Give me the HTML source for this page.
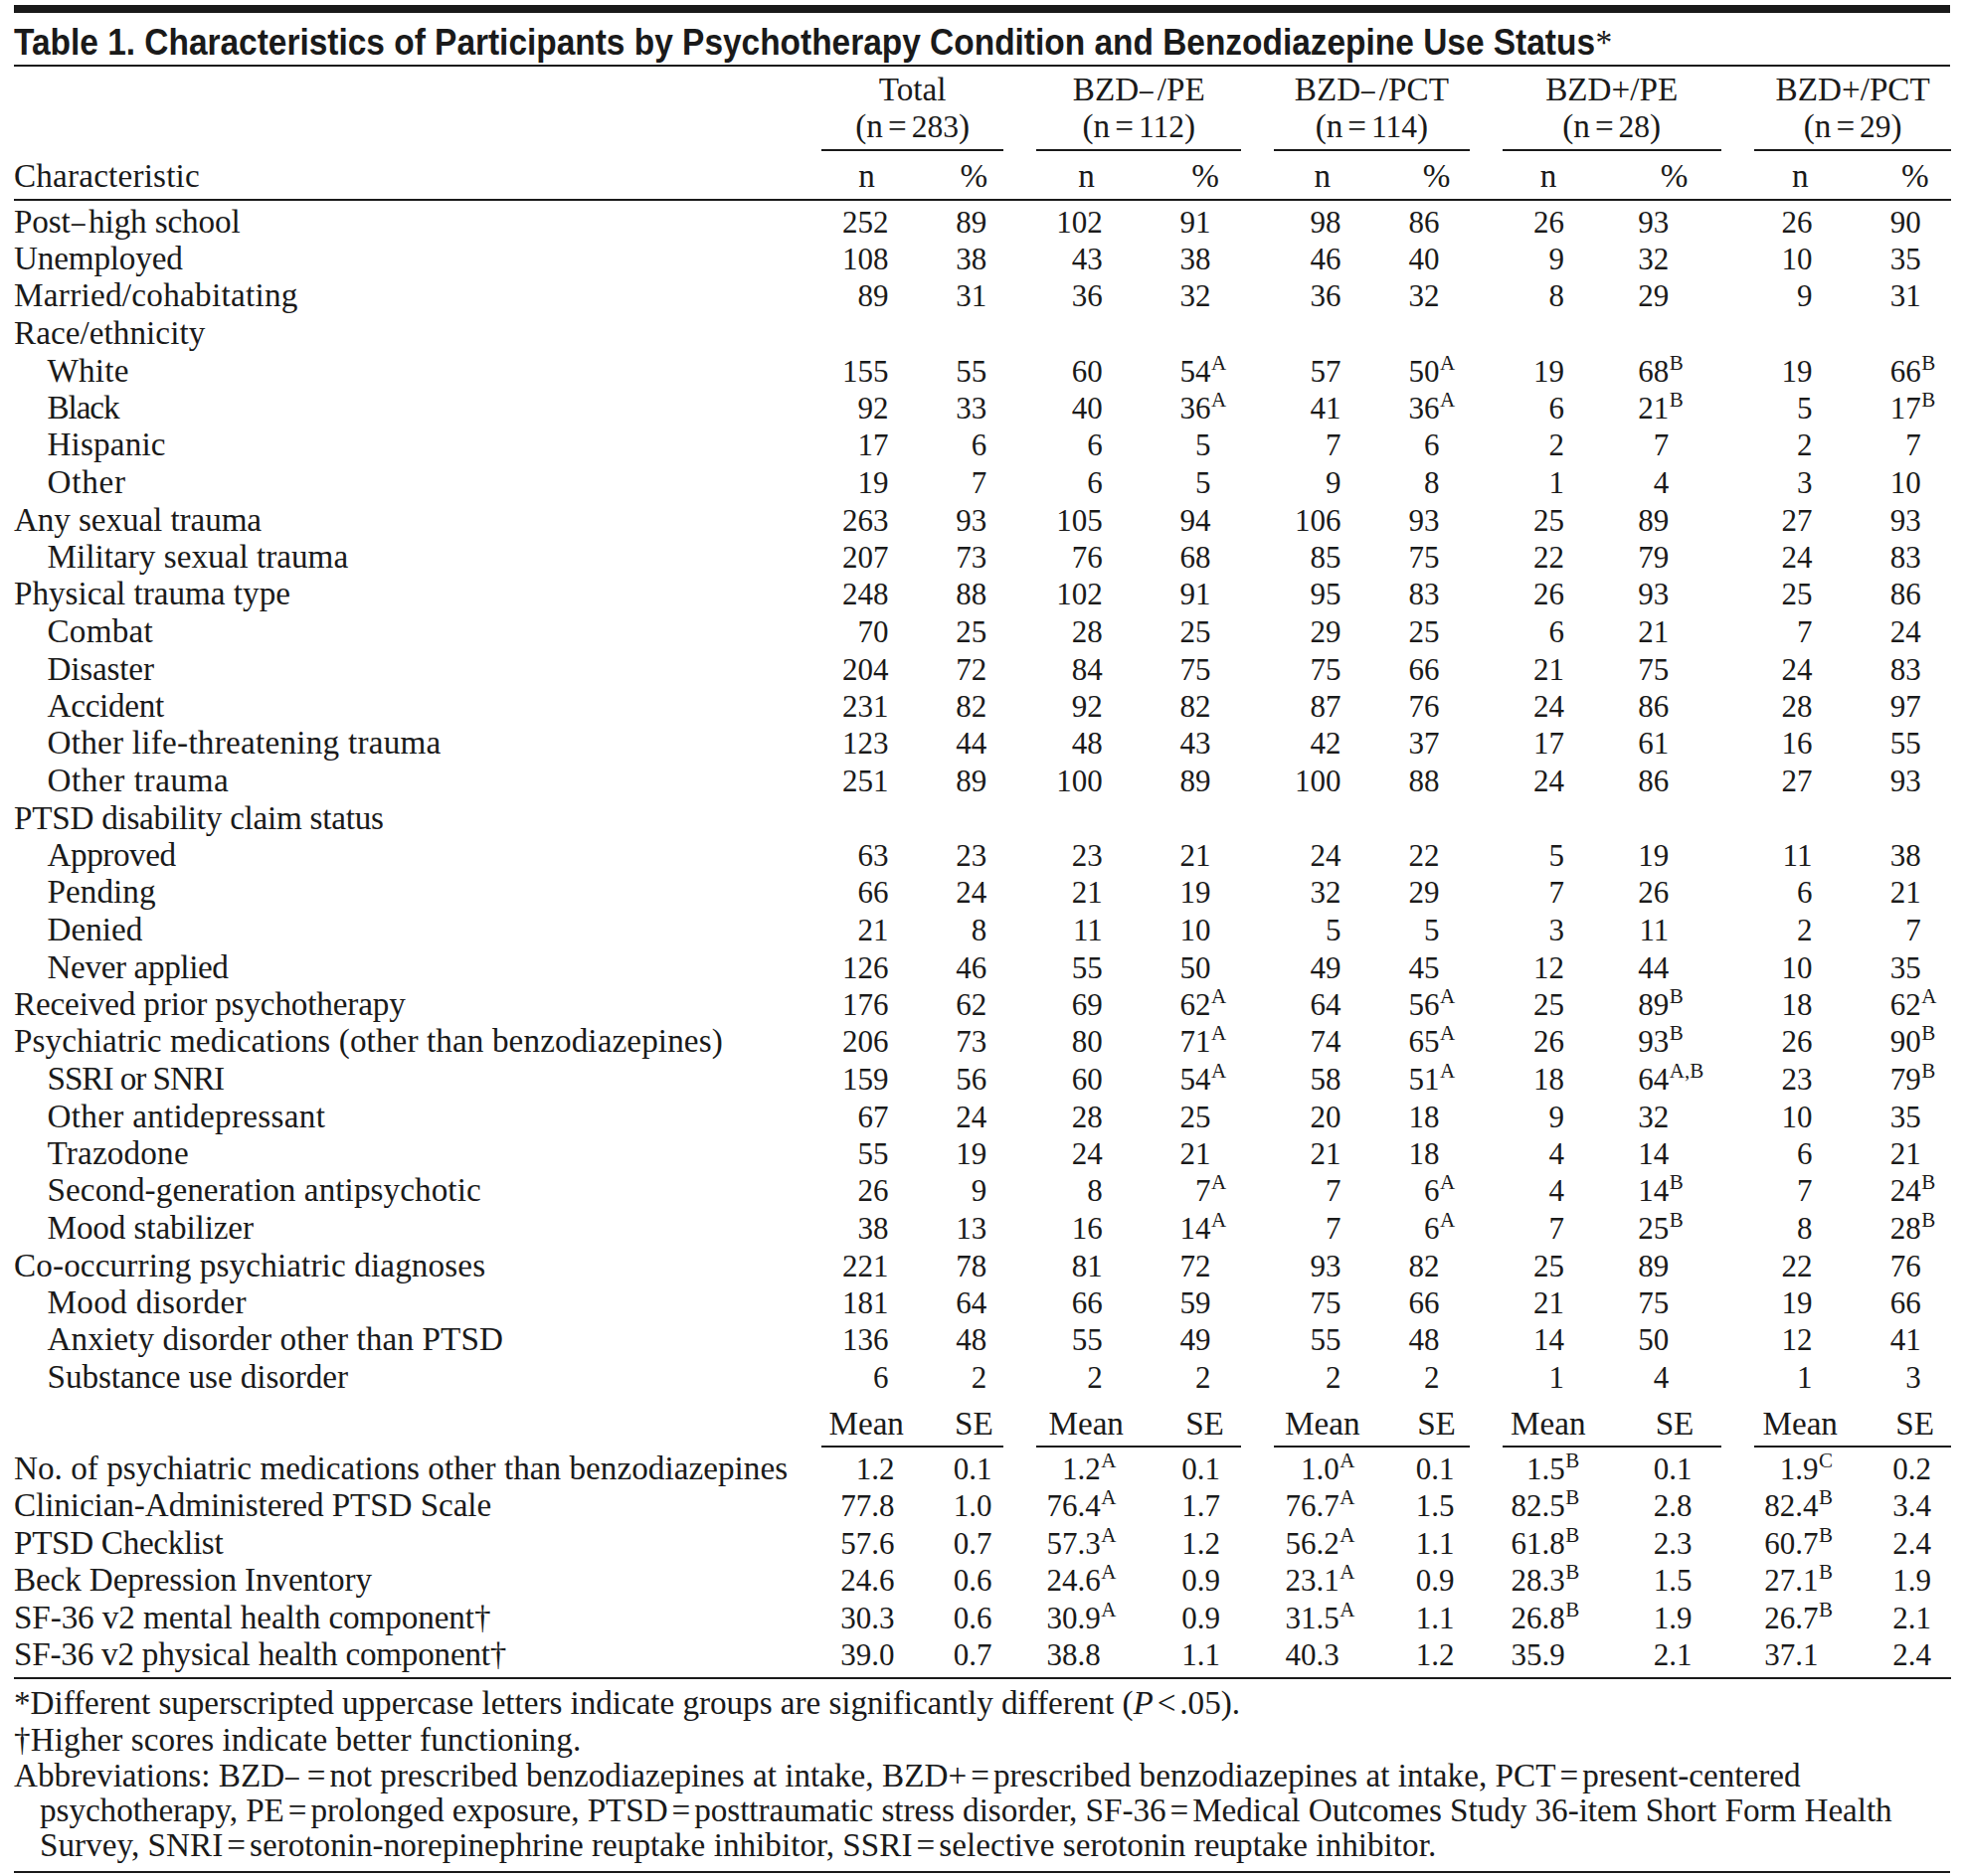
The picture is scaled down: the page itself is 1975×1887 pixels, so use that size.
<!DOCTYPE html>
<html><head><meta charset="utf-8"><title>Table 1</title><style>
html,body{margin:0;padding:0;background:#fff;}
body{width:1975px;height:1887px;position:relative;overflow:hidden;}
.t{position:absolute;white-space:nowrap;font-family:"Liberation Serif",serif;font-size:33.2px;line-height:0;color:#1a1a1a;}
.r{position:absolute;}
.eq{margin:0 4px;}
.gn .eq{margin:0 5px;}
.lt{margin:0 4px;}
.gd{font-size:31.5px;}
.da1{position:relative;top:1px;}
.da{display:inline-block;transform:scaleX(0.82);transform-origin:0 0;margin:0 1px 0 1px;}
.title{position:absolute;white-space:nowrap;font-family:"Liberation Sans",sans-serif;font-weight:bold;line-height:0;color:#1a1a1a;transform-origin:0 0;transform:scaleX(0.925);}
.title .ast{font-family:"Liberation Serif",serif;font-weight:normal;letter-spacing:0;margin-left:0.5px;}
</style></head>
<body>
<div class="r" style="left:14px;top:5px;width:1947px;height:8px;background:#1a1a1a"></div>
<div class="r" style="left:14px;top:65px;width:1947px;height:2px;background:#1a1a1a"></div>
<div class="t" style="top:90px;left:617.6px;width:600px;text-align:center;">Total</div>
<div class="t gn" style="top:127px;left:617.6px;width:600px;text-align:center;">(n<span class="eq">=</span><span class="gd">283</span>)</div>
<div class="r" style="left:826px;top:150px;width:183px;height:2px;background:#1a1a1a"></div>
<div class="t" style="top:177px;left:571.5px;width:600px;text-align:center;">n</div>
<div class="t" style="top:177px;left:679.3px;width:600px;text-align:center;">%</div>
<div class="t" style="top:90px;left:845.3px;width:600px;text-align:center;">BZD<span class="da">&ndash;</span>/PE</div>
<div class="t gn" style="top:127px;left:845.3px;width:600px;text-align:center;">(n<span class="eq">=</span><span class="gd">112</span>)</div>
<div class="r" style="left:1042px;top:150px;width:206px;height:2px;background:#1a1a1a"></div>
<div class="t" style="top:177px;left:792.6px;width:600px;text-align:center;">n</div>
<div class="t" style="top:177px;left:912.0px;width:600px;text-align:center;">%</div>
<div class="t" style="top:90px;left:1079.4px;width:600px;text-align:center;">BZD<span class="da">&ndash;</span>/PCT</div>
<div class="t gn" style="top:127px;left:1079.4px;width:600px;text-align:center;">(n<span class="eq">=</span><span class="gd">114</span>)</div>
<div class="r" style="left:1281px;top:150px;width:197px;height:2px;background:#1a1a1a"></div>
<div class="t" style="top:177px;left:1029.7px;width:600px;text-align:center;">n</div>
<div class="t" style="top:177px;left:1144.6px;width:600px;text-align:center;">%</div>
<div class="t" style="top:90px;left:1320.7px;width:600px;text-align:center;">BZD+/PE</div>
<div class="t gn" style="top:127px;left:1320.7px;width:600px;text-align:center;">(n<span class="eq">=</span><span class="gd">28</span>)</div>
<div class="r" style="left:1511px;top:150px;width:220px;height:2px;background:#1a1a1a"></div>
<div class="t" style="top:177px;left:1257.0px;width:600px;text-align:center;">n</div>
<div class="t" style="top:177px;left:1383.6px;width:600px;text-align:center;">%</div>
<div class="t" style="top:90px;left:1563.2px;width:600px;text-align:center;">BZD+/PCT</div>
<div class="t gn" style="top:127px;left:1563.2px;width:600px;text-align:center;">(n<span class="eq">=</span><span class="gd">29</span>)</div>
<div class="r" style="left:1764px;top:150px;width:198px;height:2px;background:#1a1a1a"></div>
<div class="t" style="top:177px;left:1510.4px;width:600px;text-align:center;">n</div>
<div class="t" style="top:177px;left:1625.9px;width:600px;text-align:center;">%</div>
<div class="t" style="top:177px;left:14.0px;letter-spacing:0.185px;">Characteristic</div>
<div class="r" style="left:14px;top:200px;width:1948px;height:2px;background:#1a1a1a"></div>
<div class="t" style="top:223px;left:14.0px;letter-spacing:-0.140px;">Post<span class="da">&ndash;</span>high school</div>
<div class="t n" style="top:224px;right:1081.50px;text-align:right;font-size:31px;">252</div>
<div class="t n" style="top:224px;right:982.80px;text-align:right;font-size:31px;">89</div>
<div class="t n" style="top:224px;right:866.20px;text-align:right;font-size:31px;">102</div>
<div class="t n" style="top:224px;right:757.50px;text-align:right;font-size:31px;">91</div>
<div class="t n" style="top:224px;right:626.50px;text-align:right;font-size:31px;">98</div>
<div class="t n" style="top:224px;right:527.50px;text-align:right;font-size:31px;">86</div>
<div class="t n" style="top:224px;right:402.10px;text-align:right;font-size:31px;">26</div>
<div class="t n" style="top:224px;right:296.70px;text-align:right;font-size:31px;">93</div>
<div class="t n" style="top:224px;right:152.60px;text-align:right;font-size:31px;">26</div>
<div class="t n" style="top:224px;right:43.20px;text-align:right;font-size:31px;">90</div>
<div class="t" style="top:260px;left:14.0px;letter-spacing:-0.178px;">Unemployed</div>
<div class="t n" style="top:261px;right:1081.50px;text-align:right;font-size:31px;">108</div>
<div class="t n" style="top:261px;right:982.80px;text-align:right;font-size:31px;">38</div>
<div class="t n" style="top:261px;right:866.20px;text-align:right;font-size:31px;">43</div>
<div class="t n" style="top:261px;right:757.50px;text-align:right;font-size:31px;">38</div>
<div class="t n" style="top:261px;right:626.50px;text-align:right;font-size:31px;">46</div>
<div class="t n" style="top:261px;right:527.50px;text-align:right;font-size:31px;">40</div>
<div class="t n" style="top:261px;right:402.10px;text-align:right;font-size:31px;">9</div>
<div class="t n" style="top:261px;right:296.70px;text-align:right;font-size:31px;">32</div>
<div class="t n" style="top:261px;right:152.60px;text-align:right;font-size:31px;">10</div>
<div class="t n" style="top:261px;right:43.20px;text-align:right;font-size:31px;">35</div>
<div class="t" style="top:297px;left:14.0px;letter-spacing:0.279px;">Married/cohabitating</div>
<div class="t n" style="top:298px;right:1081.50px;text-align:right;font-size:31px;">89</div>
<div class="t n" style="top:298px;right:982.80px;text-align:right;font-size:31px;">31</div>
<div class="t n" style="top:298px;right:866.20px;text-align:right;font-size:31px;">36</div>
<div class="t n" style="top:298px;right:757.50px;text-align:right;font-size:31px;">32</div>
<div class="t n" style="top:298px;right:626.50px;text-align:right;font-size:31px;">36</div>
<div class="t n" style="top:298px;right:527.50px;text-align:right;font-size:31px;">32</div>
<div class="t n" style="top:298px;right:402.10px;text-align:right;font-size:31px;">8</div>
<div class="t n" style="top:298px;right:296.70px;text-align:right;font-size:31px;">29</div>
<div class="t n" style="top:298px;right:152.60px;text-align:right;font-size:31px;">9</div>
<div class="t n" style="top:298px;right:43.20px;text-align:right;font-size:31px;">31</div>
<div class="t" style="top:335px;left:14.0px;letter-spacing:0.046px;">Race/ethnicity</div>
<div class="t" style="top:373px;left:47.5px;letter-spacing:0.200px;">White</div>
<div class="t n" style="top:374px;right:1081.50px;text-align:right;font-size:31px;">155</div>
<div class="t n" style="top:374px;right:982.80px;text-align:right;font-size:31px;">55</div>
<div class="t n" style="top:374px;right:866.20px;text-align:right;font-size:31px;">60</div>
<div class="t n" style="top:374px;right:757.50px;text-align:right;font-size:31px;">54</div>
<div class="t s" style="top:365px;left:1218.0px;font-size:21px;">A</div>
<div class="t n" style="top:374px;right:626.50px;text-align:right;font-size:31px;">57</div>
<div class="t n" style="top:374px;right:527.50px;text-align:right;font-size:31px;">50</div>
<div class="t s" style="top:365px;left:1448.0px;font-size:21px;">A</div>
<div class="t n" style="top:374px;right:402.10px;text-align:right;font-size:31px;">19</div>
<div class="t n" style="top:374px;right:296.70px;text-align:right;font-size:31px;">68</div>
<div class="t s" style="top:365px;left:1678.8px;font-size:21px;">B</div>
<div class="t n" style="top:374px;right:152.60px;text-align:right;font-size:31px;">19</div>
<div class="t n" style="top:374px;right:43.20px;text-align:right;font-size:31px;">66</div>
<div class="t s" style="top:365px;left:1932.3px;font-size:21px;">B</div>
<div class="t" style="top:410px;left:47.5px;letter-spacing:-1.100px;">Black</div>
<div class="t n" style="top:411px;right:1081.50px;text-align:right;font-size:31px;">92</div>
<div class="t n" style="top:411px;right:982.80px;text-align:right;font-size:31px;">33</div>
<div class="t n" style="top:411px;right:866.20px;text-align:right;font-size:31px;">40</div>
<div class="t n" style="top:411px;right:757.50px;text-align:right;font-size:31px;">36</div>
<div class="t s" style="top:402px;left:1218.0px;font-size:21px;">A</div>
<div class="t n" style="top:411px;right:626.50px;text-align:right;font-size:31px;">41</div>
<div class="t n" style="top:411px;right:527.50px;text-align:right;font-size:31px;">36</div>
<div class="t s" style="top:402px;left:1448.0px;font-size:21px;">A</div>
<div class="t n" style="top:411px;right:402.10px;text-align:right;font-size:31px;">6</div>
<div class="t n" style="top:411px;right:296.70px;text-align:right;font-size:31px;">21</div>
<div class="t s" style="top:402px;left:1678.8px;font-size:21px;">B</div>
<div class="t n" style="top:411px;right:152.60px;text-align:right;font-size:31px;">5</div>
<div class="t n" style="top:411px;right:43.20px;text-align:right;font-size:31px;">17</div>
<div class="t s" style="top:402px;left:1932.3px;font-size:21px;">B</div>
<div class="t" style="top:447px;left:47.5px;letter-spacing:0.143px;">Hispanic</div>
<div class="t n" style="top:448px;right:1081.50px;text-align:right;font-size:31px;">17</div>
<div class="t n" style="top:448px;right:982.80px;text-align:right;font-size:31px;">6</div>
<div class="t n" style="top:448px;right:866.20px;text-align:right;font-size:31px;">6</div>
<div class="t n" style="top:448px;right:757.50px;text-align:right;font-size:31px;">5</div>
<div class="t n" style="top:448px;right:626.50px;text-align:right;font-size:31px;">7</div>
<div class="t n" style="top:448px;right:527.50px;text-align:right;font-size:31px;">6</div>
<div class="t n" style="top:448px;right:402.10px;text-align:right;font-size:31px;">2</div>
<div class="t n" style="top:448px;right:296.70px;text-align:right;font-size:31px;">7</div>
<div class="t n" style="top:448px;right:152.60px;text-align:right;font-size:31px;">2</div>
<div class="t n" style="top:448px;right:43.20px;text-align:right;font-size:31px;">7</div>
<div class="t" style="top:485px;left:47.5px;letter-spacing:0.750px;">Other</div>
<div class="t n" style="top:486px;right:1081.50px;text-align:right;font-size:31px;">19</div>
<div class="t n" style="top:486px;right:982.80px;text-align:right;font-size:31px;">7</div>
<div class="t n" style="top:486px;right:866.20px;text-align:right;font-size:31px;">6</div>
<div class="t n" style="top:486px;right:757.50px;text-align:right;font-size:31px;">5</div>
<div class="t n" style="top:486px;right:626.50px;text-align:right;font-size:31px;">9</div>
<div class="t n" style="top:486px;right:527.50px;text-align:right;font-size:31px;">8</div>
<div class="t n" style="top:486px;right:402.10px;text-align:right;font-size:31px;">1</div>
<div class="t n" style="top:486px;right:296.70px;text-align:right;font-size:31px;">4</div>
<div class="t n" style="top:486px;right:152.60px;text-align:right;font-size:31px;">3</div>
<div class="t n" style="top:486px;right:43.20px;text-align:right;font-size:31px;">10</div>
<div class="t" style="top:523px;left:14.0px;letter-spacing:-0.100px;">Any sexual trauma</div>
<div class="t n" style="top:524px;right:1081.50px;text-align:right;font-size:31px;">263</div>
<div class="t n" style="top:524px;right:982.80px;text-align:right;font-size:31px;">93</div>
<div class="t n" style="top:524px;right:866.20px;text-align:right;font-size:31px;">105</div>
<div class="t n" style="top:524px;right:757.50px;text-align:right;font-size:31px;">94</div>
<div class="t n" style="top:524px;right:626.50px;text-align:right;font-size:31px;">106</div>
<div class="t n" style="top:524px;right:527.50px;text-align:right;font-size:31px;">93</div>
<div class="t n" style="top:524px;right:402.10px;text-align:right;font-size:31px;">25</div>
<div class="t n" style="top:524px;right:296.70px;text-align:right;font-size:31px;">89</div>
<div class="t n" style="top:524px;right:152.60px;text-align:right;font-size:31px;">27</div>
<div class="t n" style="top:524px;right:43.20px;text-align:right;font-size:31px;">93</div>
<div class="t" style="top:560px;left:47.5px;letter-spacing:0.019px;">Military sexual trauma</div>
<div class="t n" style="top:561px;right:1081.50px;text-align:right;font-size:31px;">207</div>
<div class="t n" style="top:561px;right:982.80px;text-align:right;font-size:31px;">73</div>
<div class="t n" style="top:561px;right:866.20px;text-align:right;font-size:31px;">76</div>
<div class="t n" style="top:561px;right:757.50px;text-align:right;font-size:31px;">68</div>
<div class="t n" style="top:561px;right:626.50px;text-align:right;font-size:31px;">85</div>
<div class="t n" style="top:561px;right:527.50px;text-align:right;font-size:31px;">75</div>
<div class="t n" style="top:561px;right:402.10px;text-align:right;font-size:31px;">22</div>
<div class="t n" style="top:561px;right:296.70px;text-align:right;font-size:31px;">79</div>
<div class="t n" style="top:561px;right:152.60px;text-align:right;font-size:31px;">24</div>
<div class="t n" style="top:561px;right:43.20px;text-align:right;font-size:31px;">83</div>
<div class="t" style="top:597px;left:14.0px;letter-spacing:-0.021px;">Physical trauma type</div>
<div class="t n" style="top:598px;right:1081.50px;text-align:right;font-size:31px;">248</div>
<div class="t n" style="top:598px;right:982.80px;text-align:right;font-size:31px;">88</div>
<div class="t n" style="top:598px;right:866.20px;text-align:right;font-size:31px;">102</div>
<div class="t n" style="top:598px;right:757.50px;text-align:right;font-size:31px;">91</div>
<div class="t n" style="top:598px;right:626.50px;text-align:right;font-size:31px;">95</div>
<div class="t n" style="top:598px;right:527.50px;text-align:right;font-size:31px;">83</div>
<div class="t n" style="top:598px;right:402.10px;text-align:right;font-size:31px;">26</div>
<div class="t n" style="top:598px;right:296.70px;text-align:right;font-size:31px;">93</div>
<div class="t n" style="top:598px;right:152.60px;text-align:right;font-size:31px;">25</div>
<div class="t n" style="top:598px;right:43.20px;text-align:right;font-size:31px;">86</div>
<div class="t" style="top:635px;left:47.5px;letter-spacing:0.220px;">Combat</div>
<div class="t n" style="top:636px;right:1081.50px;text-align:right;font-size:31px;">70</div>
<div class="t n" style="top:636px;right:982.80px;text-align:right;font-size:31px;">25</div>
<div class="t n" style="top:636px;right:866.20px;text-align:right;font-size:31px;">28</div>
<div class="t n" style="top:636px;right:757.50px;text-align:right;font-size:31px;">25</div>
<div class="t n" style="top:636px;right:626.50px;text-align:right;font-size:31px;">29</div>
<div class="t n" style="top:636px;right:527.50px;text-align:right;font-size:31px;">25</div>
<div class="t n" style="top:636px;right:402.10px;text-align:right;font-size:31px;">6</div>
<div class="t n" style="top:636px;right:296.70px;text-align:right;font-size:31px;">21</div>
<div class="t n" style="top:636px;right:152.60px;text-align:right;font-size:31px;">7</div>
<div class="t n" style="top:636px;right:43.20px;text-align:right;font-size:31px;">24</div>
<div class="t" style="top:673px;left:47.5px;letter-spacing:-0.186px;">Disaster</div>
<div class="t n" style="top:674px;right:1081.50px;text-align:right;font-size:31px;">204</div>
<div class="t n" style="top:674px;right:982.80px;text-align:right;font-size:31px;">72</div>
<div class="t n" style="top:674px;right:866.20px;text-align:right;font-size:31px;">84</div>
<div class="t n" style="top:674px;right:757.50px;text-align:right;font-size:31px;">75</div>
<div class="t n" style="top:674px;right:626.50px;text-align:right;font-size:31px;">75</div>
<div class="t n" style="top:674px;right:527.50px;text-align:right;font-size:31px;">66</div>
<div class="t n" style="top:674px;right:402.10px;text-align:right;font-size:31px;">21</div>
<div class="t n" style="top:674px;right:296.70px;text-align:right;font-size:31px;">75</div>
<div class="t n" style="top:674px;right:152.60px;text-align:right;font-size:31px;">24</div>
<div class="t n" style="top:674px;right:43.20px;text-align:right;font-size:31px;">83</div>
<div class="t" style="top:710px;left:47.5px;letter-spacing:-0.286px;">Accident</div>
<div class="t n" style="top:711px;right:1081.50px;text-align:right;font-size:31px;">231</div>
<div class="t n" style="top:711px;right:982.80px;text-align:right;font-size:31px;">82</div>
<div class="t n" style="top:711px;right:866.20px;text-align:right;font-size:31px;">92</div>
<div class="t n" style="top:711px;right:757.50px;text-align:right;font-size:31px;">82</div>
<div class="t n" style="top:711px;right:626.50px;text-align:right;font-size:31px;">87</div>
<div class="t n" style="top:711px;right:527.50px;text-align:right;font-size:31px;">76</div>
<div class="t n" style="top:711px;right:402.10px;text-align:right;font-size:31px;">24</div>
<div class="t n" style="top:711px;right:296.70px;text-align:right;font-size:31px;">86</div>
<div class="t n" style="top:711px;right:152.60px;text-align:right;font-size:31px;">28</div>
<div class="t n" style="top:711px;right:43.20px;text-align:right;font-size:31px;">97</div>
<div class="t" style="top:747px;left:47.5px;letter-spacing:0.250px;">Other life-threatening trauma</div>
<div class="t n" style="top:748px;right:1081.50px;text-align:right;font-size:31px;">123</div>
<div class="t n" style="top:748px;right:982.80px;text-align:right;font-size:31px;">44</div>
<div class="t n" style="top:748px;right:866.20px;text-align:right;font-size:31px;">48</div>
<div class="t n" style="top:748px;right:757.50px;text-align:right;font-size:31px;">43</div>
<div class="t n" style="top:748px;right:626.50px;text-align:right;font-size:31px;">42</div>
<div class="t n" style="top:748px;right:527.50px;text-align:right;font-size:31px;">37</div>
<div class="t n" style="top:748px;right:402.10px;text-align:right;font-size:31px;">17</div>
<div class="t n" style="top:748px;right:296.70px;text-align:right;font-size:31px;">61</div>
<div class="t n" style="top:748px;right:152.60px;text-align:right;font-size:31px;">16</div>
<div class="t n" style="top:748px;right:43.20px;text-align:right;font-size:31px;">55</div>
<div class="t" style="top:785px;left:47.5px;letter-spacing:0.573px;">Other trauma</div>
<div class="t n" style="top:786px;right:1081.50px;text-align:right;font-size:31px;">251</div>
<div class="t n" style="top:786px;right:982.80px;text-align:right;font-size:31px;">89</div>
<div class="t n" style="top:786px;right:866.20px;text-align:right;font-size:31px;">100</div>
<div class="t n" style="top:786px;right:757.50px;text-align:right;font-size:31px;">89</div>
<div class="t n" style="top:786px;right:626.50px;text-align:right;font-size:31px;">100</div>
<div class="t n" style="top:786px;right:527.50px;text-align:right;font-size:31px;">88</div>
<div class="t n" style="top:786px;right:402.10px;text-align:right;font-size:31px;">24</div>
<div class="t n" style="top:786px;right:296.70px;text-align:right;font-size:31px;">86</div>
<div class="t n" style="top:786px;right:152.60px;text-align:right;font-size:31px;">27</div>
<div class="t n" style="top:786px;right:43.20px;text-align:right;font-size:31px;">93</div>
<div class="t" style="top:823px;left:14.0px;letter-spacing:-0.259px;">PTSD disability claim status</div>
<div class="t" style="top:860px;left:47.5px;letter-spacing:-0.457px;">Approved</div>
<div class="t n" style="top:861px;right:1081.50px;text-align:right;font-size:31px;">63</div>
<div class="t n" style="top:861px;right:982.80px;text-align:right;font-size:31px;">23</div>
<div class="t n" style="top:861px;right:866.20px;text-align:right;font-size:31px;">23</div>
<div class="t n" style="top:861px;right:757.50px;text-align:right;font-size:31px;">21</div>
<div class="t n" style="top:861px;right:626.50px;text-align:right;font-size:31px;">24</div>
<div class="t n" style="top:861px;right:527.50px;text-align:right;font-size:31px;">22</div>
<div class="t n" style="top:861px;right:402.10px;text-align:right;font-size:31px;">5</div>
<div class="t n" style="top:861px;right:296.70px;text-align:right;font-size:31px;">19</div>
<div class="t n" style="top:861px;right:152.60px;text-align:right;font-size:31px;">11</div>
<div class="t n" style="top:861px;right:43.20px;text-align:right;font-size:31px;">38</div>
<div class="t" style="top:897px;left:47.5px;letter-spacing:0.033px;">Pending</div>
<div class="t n" style="top:898px;right:1081.50px;text-align:right;font-size:31px;">66</div>
<div class="t n" style="top:898px;right:982.80px;text-align:right;font-size:31px;">24</div>
<div class="t n" style="top:898px;right:866.20px;text-align:right;font-size:31px;">21</div>
<div class="t n" style="top:898px;right:757.50px;text-align:right;font-size:31px;">19</div>
<div class="t n" style="top:898px;right:626.50px;text-align:right;font-size:31px;">32</div>
<div class="t n" style="top:898px;right:527.50px;text-align:right;font-size:31px;">29</div>
<div class="t n" style="top:898px;right:402.10px;text-align:right;font-size:31px;">7</div>
<div class="t n" style="top:898px;right:296.70px;text-align:right;font-size:31px;">26</div>
<div class="t n" style="top:898px;right:152.60px;text-align:right;font-size:31px;">6</div>
<div class="t n" style="top:898px;right:43.20px;text-align:right;font-size:31px;">21</div>
<div class="t" style="top:935px;left:47.5px;letter-spacing:0.000px;">Denied</div>
<div class="t n" style="top:936px;right:1081.50px;text-align:right;font-size:31px;">21</div>
<div class="t n" style="top:936px;right:982.80px;text-align:right;font-size:31px;">8</div>
<div class="t n" style="top:936px;right:866.20px;text-align:right;font-size:31px;">11</div>
<div class="t n" style="top:936px;right:757.50px;text-align:right;font-size:31px;">10</div>
<div class="t n" style="top:936px;right:626.50px;text-align:right;font-size:31px;">5</div>
<div class="t n" style="top:936px;right:527.50px;text-align:right;font-size:31px;">5</div>
<div class="t n" style="top:936px;right:402.10px;text-align:right;font-size:31px;">3</div>
<div class="t n" style="top:936px;right:296.70px;text-align:right;font-size:31px;">11</div>
<div class="t n" style="top:936px;right:152.60px;text-align:right;font-size:31px;">2</div>
<div class="t n" style="top:936px;right:43.20px;text-align:right;font-size:31px;">7</div>
<div class="t" style="top:973px;left:47.5px;letter-spacing:-0.383px;">Never applied</div>
<div class="t n" style="top:974px;right:1081.50px;text-align:right;font-size:31px;">126</div>
<div class="t n" style="top:974px;right:982.80px;text-align:right;font-size:31px;">46</div>
<div class="t n" style="top:974px;right:866.20px;text-align:right;font-size:31px;">55</div>
<div class="t n" style="top:974px;right:757.50px;text-align:right;font-size:31px;">50</div>
<div class="t n" style="top:974px;right:626.50px;text-align:right;font-size:31px;">49</div>
<div class="t n" style="top:974px;right:527.50px;text-align:right;font-size:31px;">45</div>
<div class="t n" style="top:974px;right:402.10px;text-align:right;font-size:31px;">12</div>
<div class="t n" style="top:974px;right:296.70px;text-align:right;font-size:31px;">44</div>
<div class="t n" style="top:974px;right:152.60px;text-align:right;font-size:31px;">10</div>
<div class="t n" style="top:974px;right:43.20px;text-align:right;font-size:31px;">35</div>
<div class="t" style="top:1010px;left:14.0px;letter-spacing:-0.159px;">Received prior psychotherapy</div>
<div class="t n" style="top:1011px;right:1081.50px;text-align:right;font-size:31px;">176</div>
<div class="t n" style="top:1011px;right:982.80px;text-align:right;font-size:31px;">62</div>
<div class="t n" style="top:1011px;right:866.20px;text-align:right;font-size:31px;">69</div>
<div class="t n" style="top:1011px;right:757.50px;text-align:right;font-size:31px;">62</div>
<div class="t s" style="top:1002px;left:1218.0px;font-size:21px;">A</div>
<div class="t n" style="top:1011px;right:626.50px;text-align:right;font-size:31px;">64</div>
<div class="t n" style="top:1011px;right:527.50px;text-align:right;font-size:31px;">56</div>
<div class="t s" style="top:1002px;left:1448.0px;font-size:21px;">A</div>
<div class="t n" style="top:1011px;right:402.10px;text-align:right;font-size:31px;">25</div>
<div class="t n" style="top:1011px;right:296.70px;text-align:right;font-size:31px;">89</div>
<div class="t s" style="top:1002px;left:1678.8px;font-size:21px;">B</div>
<div class="t n" style="top:1011px;right:152.60px;text-align:right;font-size:31px;">18</div>
<div class="t n" style="top:1011px;right:43.20px;text-align:right;font-size:31px;">62</div>
<div class="t s" style="top:1002px;left:1932.3px;font-size:21px;">A</div>
<div class="t" style="top:1047px;left:14.0px;letter-spacing:0.098px;">Psychiatric medications (other than benzodiazepines)</div>
<div class="t n" style="top:1048px;right:1081.50px;text-align:right;font-size:31px;">206</div>
<div class="t n" style="top:1048px;right:982.80px;text-align:right;font-size:31px;">73</div>
<div class="t n" style="top:1048px;right:866.20px;text-align:right;font-size:31px;">80</div>
<div class="t n" style="top:1048px;right:757.50px;text-align:right;font-size:31px;">71</div>
<div class="t s" style="top:1039px;left:1218.0px;font-size:21px;">A</div>
<div class="t n" style="top:1048px;right:626.50px;text-align:right;font-size:31px;">74</div>
<div class="t n" style="top:1048px;right:527.50px;text-align:right;font-size:31px;">65</div>
<div class="t s" style="top:1039px;left:1448.0px;font-size:21px;">A</div>
<div class="t n" style="top:1048px;right:402.10px;text-align:right;font-size:31px;">26</div>
<div class="t n" style="top:1048px;right:296.70px;text-align:right;font-size:31px;">93</div>
<div class="t s" style="top:1039px;left:1678.8px;font-size:21px;">B</div>
<div class="t n" style="top:1048px;right:152.60px;text-align:right;font-size:31px;">26</div>
<div class="t n" style="top:1048px;right:43.20px;text-align:right;font-size:31px;">90</div>
<div class="t s" style="top:1039px;left:1932.3px;font-size:21px;">B</div>
<div class="t" style="top:1085px;left:47.5px;letter-spacing:-1.036px;">SSRI or SNRI</div>
<div class="t n" style="top:1086px;right:1081.50px;text-align:right;font-size:31px;">159</div>
<div class="t n" style="top:1086px;right:982.80px;text-align:right;font-size:31px;">56</div>
<div class="t n" style="top:1086px;right:866.20px;text-align:right;font-size:31px;">60</div>
<div class="t n" style="top:1086px;right:757.50px;text-align:right;font-size:31px;">54</div>
<div class="t s" style="top:1077px;left:1218.0px;font-size:21px;">A</div>
<div class="t n" style="top:1086px;right:626.50px;text-align:right;font-size:31px;">58</div>
<div class="t n" style="top:1086px;right:527.50px;text-align:right;font-size:31px;">51</div>
<div class="t s" style="top:1077px;left:1448.0px;font-size:21px;">A</div>
<div class="t n" style="top:1086px;right:402.10px;text-align:right;font-size:31px;">18</div>
<div class="t n" style="top:1086px;right:296.70px;text-align:right;font-size:31px;">64</div>
<div class="t s" style="top:1077px;left:1678.8px;font-size:21px;">A,B</div>
<div class="t n" style="top:1086px;right:152.60px;text-align:right;font-size:31px;">23</div>
<div class="t n" style="top:1086px;right:43.20px;text-align:right;font-size:31px;">79</div>
<div class="t s" style="top:1077px;left:1932.3px;font-size:21px;">B</div>
<div class="t" style="top:1123px;left:47.5px;letter-spacing:0.300px;">Other antidepressant</div>
<div class="t n" style="top:1124px;right:1081.50px;text-align:right;font-size:31px;">67</div>
<div class="t n" style="top:1124px;right:982.80px;text-align:right;font-size:31px;">24</div>
<div class="t n" style="top:1124px;right:866.20px;text-align:right;font-size:31px;">28</div>
<div class="t n" style="top:1124px;right:757.50px;text-align:right;font-size:31px;">25</div>
<div class="t n" style="top:1124px;right:626.50px;text-align:right;font-size:31px;">20</div>
<div class="t n" style="top:1124px;right:527.50px;text-align:right;font-size:31px;">18</div>
<div class="t n" style="top:1124px;right:402.10px;text-align:right;font-size:31px;">9</div>
<div class="t n" style="top:1124px;right:296.70px;text-align:right;font-size:31px;">32</div>
<div class="t n" style="top:1124px;right:152.60px;text-align:right;font-size:31px;">10</div>
<div class="t n" style="top:1124px;right:43.20px;text-align:right;font-size:31px;">35</div>
<div class="t" style="top:1160px;left:47.5px;letter-spacing:0.175px;">Trazodone</div>
<div class="t n" style="top:1161px;right:1081.50px;text-align:right;font-size:31px;">55</div>
<div class="t n" style="top:1161px;right:982.80px;text-align:right;font-size:31px;">19</div>
<div class="t n" style="top:1161px;right:866.20px;text-align:right;font-size:31px;">24</div>
<div class="t n" style="top:1161px;right:757.50px;text-align:right;font-size:31px;">21</div>
<div class="t n" style="top:1161px;right:626.50px;text-align:right;font-size:31px;">21</div>
<div class="t n" style="top:1161px;right:527.50px;text-align:right;font-size:31px;">18</div>
<div class="t n" style="top:1161px;right:402.10px;text-align:right;font-size:31px;">4</div>
<div class="t n" style="top:1161px;right:296.70px;text-align:right;font-size:31px;">14</div>
<div class="t n" style="top:1161px;right:152.60px;text-align:right;font-size:31px;">6</div>
<div class="t n" style="top:1161px;right:43.20px;text-align:right;font-size:31px;">21</div>
<div class="t" style="top:1197px;left:47.5px;letter-spacing:0.070px;">Second-generation antipsychotic</div>
<div class="t n" style="top:1198px;right:1081.50px;text-align:right;font-size:31px;">26</div>
<div class="t n" style="top:1198px;right:982.80px;text-align:right;font-size:31px;">9</div>
<div class="t n" style="top:1198px;right:866.20px;text-align:right;font-size:31px;">8</div>
<div class="t n" style="top:1198px;right:757.50px;text-align:right;font-size:31px;">7</div>
<div class="t s" style="top:1189px;left:1218.0px;font-size:21px;">A</div>
<div class="t n" style="top:1198px;right:626.50px;text-align:right;font-size:31px;">7</div>
<div class="t n" style="top:1198px;right:527.50px;text-align:right;font-size:31px;">6</div>
<div class="t s" style="top:1189px;left:1448.0px;font-size:21px;">A</div>
<div class="t n" style="top:1198px;right:402.10px;text-align:right;font-size:31px;">4</div>
<div class="t n" style="top:1198px;right:296.70px;text-align:right;font-size:31px;">14</div>
<div class="t s" style="top:1189px;left:1678.8px;font-size:21px;">B</div>
<div class="t n" style="top:1198px;right:152.60px;text-align:right;font-size:31px;">7</div>
<div class="t n" style="top:1198px;right:43.20px;text-align:right;font-size:31px;">24</div>
<div class="t s" style="top:1189px;left:1932.3px;font-size:21px;">B</div>
<div class="t" style="top:1235px;left:47.5px;letter-spacing:-0.121px;">Mood stabilizer</div>
<div class="t n" style="top:1236px;right:1081.50px;text-align:right;font-size:31px;">38</div>
<div class="t n" style="top:1236px;right:982.80px;text-align:right;font-size:31px;">13</div>
<div class="t n" style="top:1236px;right:866.20px;text-align:right;font-size:31px;">16</div>
<div class="t n" style="top:1236px;right:757.50px;text-align:right;font-size:31px;">14</div>
<div class="t s" style="top:1227px;left:1218.0px;font-size:21px;">A</div>
<div class="t n" style="top:1236px;right:626.50px;text-align:right;font-size:31px;">7</div>
<div class="t n" style="top:1236px;right:527.50px;text-align:right;font-size:31px;">6</div>
<div class="t s" style="top:1227px;left:1448.0px;font-size:21px;">A</div>
<div class="t n" style="top:1236px;right:402.10px;text-align:right;font-size:31px;">7</div>
<div class="t n" style="top:1236px;right:296.70px;text-align:right;font-size:31px;">25</div>
<div class="t s" style="top:1227px;left:1678.8px;font-size:21px;">B</div>
<div class="t n" style="top:1236px;right:152.60px;text-align:right;font-size:31px;">8</div>
<div class="t n" style="top:1236px;right:43.20px;text-align:right;font-size:31px;">28</div>
<div class="t s" style="top:1227px;left:1932.3px;font-size:21px;">B</div>
<div class="t" style="top:1273px;left:14.0px;letter-spacing:0.124px;">Co-occurring psychiatric diagnoses</div>
<div class="t n" style="top:1274px;right:1081.50px;text-align:right;font-size:31px;">221</div>
<div class="t n" style="top:1274px;right:982.80px;text-align:right;font-size:31px;">78</div>
<div class="t n" style="top:1274px;right:866.20px;text-align:right;font-size:31px;">81</div>
<div class="t n" style="top:1274px;right:757.50px;text-align:right;font-size:31px;">72</div>
<div class="t n" style="top:1274px;right:626.50px;text-align:right;font-size:31px;">93</div>
<div class="t n" style="top:1274px;right:527.50px;text-align:right;font-size:31px;">82</div>
<div class="t n" style="top:1274px;right:402.10px;text-align:right;font-size:31px;">25</div>
<div class="t n" style="top:1274px;right:296.70px;text-align:right;font-size:31px;">89</div>
<div class="t n" style="top:1274px;right:152.60px;text-align:right;font-size:31px;">22</div>
<div class="t n" style="top:1274px;right:43.20px;text-align:right;font-size:31px;">76</div>
<div class="t" style="top:1310px;left:47.5px;letter-spacing:0.308px;">Mood disorder</div>
<div class="t n" style="top:1311px;right:1081.50px;text-align:right;font-size:31px;">181</div>
<div class="t n" style="top:1311px;right:982.80px;text-align:right;font-size:31px;">64</div>
<div class="t n" style="top:1311px;right:866.20px;text-align:right;font-size:31px;">66</div>
<div class="t n" style="top:1311px;right:757.50px;text-align:right;font-size:31px;">59</div>
<div class="t n" style="top:1311px;right:626.50px;text-align:right;font-size:31px;">75</div>
<div class="t n" style="top:1311px;right:527.50px;text-align:right;font-size:31px;">66</div>
<div class="t n" style="top:1311px;right:402.10px;text-align:right;font-size:31px;">21</div>
<div class="t n" style="top:1311px;right:296.70px;text-align:right;font-size:31px;">75</div>
<div class="t n" style="top:1311px;right:152.60px;text-align:right;font-size:31px;">19</div>
<div class="t n" style="top:1311px;right:43.20px;text-align:right;font-size:31px;">66</div>
<div class="t" style="top:1347px;left:47.5px;letter-spacing:0.100px;">Anxiety disorder other than PTSD</div>
<div class="t n" style="top:1348px;right:1081.50px;text-align:right;font-size:31px;">136</div>
<div class="t n" style="top:1348px;right:982.80px;text-align:right;font-size:31px;">48</div>
<div class="t n" style="top:1348px;right:866.20px;text-align:right;font-size:31px;">55</div>
<div class="t n" style="top:1348px;right:757.50px;text-align:right;font-size:31px;">49</div>
<div class="t n" style="top:1348px;right:626.50px;text-align:right;font-size:31px;">55</div>
<div class="t n" style="top:1348px;right:527.50px;text-align:right;font-size:31px;">48</div>
<div class="t n" style="top:1348px;right:402.10px;text-align:right;font-size:31px;">14</div>
<div class="t n" style="top:1348px;right:296.70px;text-align:right;font-size:31px;">50</div>
<div class="t n" style="top:1348px;right:152.60px;text-align:right;font-size:31px;">12</div>
<div class="t n" style="top:1348px;right:43.20px;text-align:right;font-size:31px;">41</div>
<div class="t" style="top:1385px;left:47.5px;letter-spacing:-0.076px;">Substance use disorder</div>
<div class="t n" style="top:1386px;right:1081.50px;text-align:right;font-size:31px;">6</div>
<div class="t n" style="top:1386px;right:982.80px;text-align:right;font-size:31px;">2</div>
<div class="t n" style="top:1386px;right:866.20px;text-align:right;font-size:31px;">2</div>
<div class="t n" style="top:1386px;right:757.50px;text-align:right;font-size:31px;">2</div>
<div class="t n" style="top:1386px;right:626.50px;text-align:right;font-size:31px;">2</div>
<div class="t n" style="top:1386px;right:527.50px;text-align:right;font-size:31px;">2</div>
<div class="t n" style="top:1386px;right:402.10px;text-align:right;font-size:31px;">1</div>
<div class="t n" style="top:1386px;right:296.70px;text-align:right;font-size:31px;">4</div>
<div class="t n" style="top:1386px;right:152.60px;text-align:right;font-size:31px;">1</div>
<div class="t n" style="top:1386px;right:43.20px;text-align:right;font-size:31px;">3</div>
<div class="t" style="top:1432px;left:571.2px;width:600px;text-align:center;">Mean</div>
<div class="t" style="top:1432px;left:679.4px;width:600px;text-align:center;">SE</div>
<div class="r" style="left:826px;top:1454px;width:183px;height:2px;background:#1a1a1a"></div>
<div class="t" style="top:1432px;left:792.2px;width:600px;text-align:center;">Mean</div>
<div class="t" style="top:1432px;left:911.5px;width:600px;text-align:center;">SE</div>
<div class="r" style="left:1042px;top:1454px;width:206px;height:2px;background:#1a1a1a"></div>
<div class="t" style="top:1432px;left:1029.8px;width:600px;text-align:center;">Mean</div>
<div class="t" style="top:1432px;left:1144.5px;width:600px;text-align:center;">SE</div>
<div class="r" style="left:1281px;top:1454px;width:197px;height:2px;background:#1a1a1a"></div>
<div class="t" style="top:1432px;left:1256.9px;width:600px;text-align:center;">Mean</div>
<div class="t" style="top:1432px;left:1384.0px;width:600px;text-align:center;">SE</div>
<div class="r" style="left:1511px;top:1454px;width:220px;height:2px;background:#1a1a1a"></div>
<div class="t" style="top:1432px;left:1510.2px;width:600px;text-align:center;">Mean</div>
<div class="t" style="top:1432px;left:1625.7px;width:600px;text-align:center;">SE</div>
<div class="r" style="left:1764px;top:1454px;width:198px;height:2px;background:#1a1a1a"></div>
<div class="t" style="top:1477px;left:14.0px;letter-spacing:0.021px;">No. of psychiatric medications other than benzodiazepines</div>
<div class="t n" style="top:1478px;right:1075.50px;text-align:right;font-size:31px;">1.2</div>
<div class="t n" style="top:1478px;right:977.50px;text-align:right;font-size:31px;">0.1</div>
<div class="t n" style="top:1478px;right:868.20px;text-align:right;font-size:31px;">1.2</div>
<div class="t s" style="top:1469px;left:1107.3px;font-size:21px;">A</div>
<div class="t n" style="top:1478px;right:748.00px;text-align:right;font-size:31px;">0.1</div>
<div class="t n" style="top:1478px;right:628.20px;text-align:right;font-size:31px;">1.0</div>
<div class="t s" style="top:1469px;left:1347.3px;font-size:21px;">A</div>
<div class="t n" style="top:1478px;right:512.50px;text-align:right;font-size:31px;">0.1</div>
<div class="t n" style="top:1478px;right:401.30px;text-align:right;font-size:31px;">1.5</div>
<div class="t s" style="top:1469px;left:1574.2px;font-size:21px;">B</div>
<div class="t n" style="top:1478px;right:273.50px;text-align:right;font-size:31px;">0.1</div>
<div class="t n" style="top:1478px;right:146.50px;text-align:right;font-size:31px;">1.9</div>
<div class="t s" style="top:1469px;left:1829.0px;font-size:21px;">C</div>
<div class="t n" style="top:1478px;right:33.00px;text-align:right;font-size:31px;">0.2</div>
<div class="t" style="top:1514px;left:14.0px;letter-spacing:-0.088px;">Clinician-Administered PTSD Scale</div>
<div class="t n" style="top:1515px;right:1075.50px;text-align:right;font-size:31px;">77.8</div>
<div class="t n" style="top:1515px;right:977.50px;text-align:right;font-size:31px;">1.0</div>
<div class="t n" style="top:1515px;right:868.20px;text-align:right;font-size:31px;">76.4</div>
<div class="t s" style="top:1506px;left:1107.3px;font-size:21px;">A</div>
<div class="t n" style="top:1515px;right:748.00px;text-align:right;font-size:31px;">1.7</div>
<div class="t n" style="top:1515px;right:628.20px;text-align:right;font-size:31px;">76.7</div>
<div class="t s" style="top:1506px;left:1347.3px;font-size:21px;">A</div>
<div class="t n" style="top:1515px;right:512.50px;text-align:right;font-size:31px;">1.5</div>
<div class="t n" style="top:1515px;right:401.30px;text-align:right;font-size:31px;">82.5</div>
<div class="t s" style="top:1506px;left:1574.2px;font-size:21px;">B</div>
<div class="t n" style="top:1515px;right:273.50px;text-align:right;font-size:31px;">2.8</div>
<div class="t n" style="top:1515px;right:146.50px;text-align:right;font-size:31px;">82.4</div>
<div class="t s" style="top:1506px;left:1829.0px;font-size:21px;">B</div>
<div class="t n" style="top:1515px;right:33.00px;text-align:right;font-size:31px;">3.4</div>
<div class="t" style="top:1552px;left:14.0px;letter-spacing:-0.323px;">PTSD Checklist</div>
<div class="t n" style="top:1553px;right:1075.50px;text-align:right;font-size:31px;">57.6</div>
<div class="t n" style="top:1553px;right:977.50px;text-align:right;font-size:31px;">0.7</div>
<div class="t n" style="top:1553px;right:868.20px;text-align:right;font-size:31px;">57.3</div>
<div class="t s" style="top:1544px;left:1107.3px;font-size:21px;">A</div>
<div class="t n" style="top:1553px;right:748.00px;text-align:right;font-size:31px;">1.2</div>
<div class="t n" style="top:1553px;right:628.20px;text-align:right;font-size:31px;">56.2</div>
<div class="t s" style="top:1544px;left:1347.3px;font-size:21px;">A</div>
<div class="t n" style="top:1553px;right:512.50px;text-align:right;font-size:31px;">1.1</div>
<div class="t n" style="top:1553px;right:401.30px;text-align:right;font-size:31px;">61.8</div>
<div class="t s" style="top:1544px;left:1574.2px;font-size:21px;">B</div>
<div class="t n" style="top:1553px;right:273.50px;text-align:right;font-size:31px;">2.3</div>
<div class="t n" style="top:1553px;right:146.50px;text-align:right;font-size:31px;">60.7</div>
<div class="t s" style="top:1544px;left:1829.0px;font-size:21px;">B</div>
<div class="t n" style="top:1553px;right:33.00px;text-align:right;font-size:31px;">2.4</div>
<div class="t" style="top:1589px;left:14.0px;letter-spacing:-0.129px;">Beck Depression Inventory</div>
<div class="t n" style="top:1590px;right:1075.50px;text-align:right;font-size:31px;">24.6</div>
<div class="t n" style="top:1590px;right:977.50px;text-align:right;font-size:31px;">0.6</div>
<div class="t n" style="top:1590px;right:868.20px;text-align:right;font-size:31px;">24.6</div>
<div class="t s" style="top:1581px;left:1107.3px;font-size:21px;">A</div>
<div class="t n" style="top:1590px;right:748.00px;text-align:right;font-size:31px;">0.9</div>
<div class="t n" style="top:1590px;right:628.20px;text-align:right;font-size:31px;">23.1</div>
<div class="t s" style="top:1581px;left:1347.3px;font-size:21px;">A</div>
<div class="t n" style="top:1590px;right:512.50px;text-align:right;font-size:31px;">0.9</div>
<div class="t n" style="top:1590px;right:401.30px;text-align:right;font-size:31px;">28.3</div>
<div class="t s" style="top:1581px;left:1574.2px;font-size:21px;">B</div>
<div class="t n" style="top:1590px;right:273.50px;text-align:right;font-size:31px;">1.5</div>
<div class="t n" style="top:1590px;right:146.50px;text-align:right;font-size:31px;">27.1</div>
<div class="t s" style="top:1581px;left:1829.0px;font-size:21px;">B</div>
<div class="t n" style="top:1590px;right:33.00px;text-align:right;font-size:31px;">1.9</div>
<div class="t" style="top:1627px;left:14.0px;letter-spacing:-0.109px;">SF-36 v2 mental health component&dagger;</div>
<div class="t n" style="top:1628px;right:1075.50px;text-align:right;font-size:31px;">30.3</div>
<div class="t n" style="top:1628px;right:977.50px;text-align:right;font-size:31px;">0.6</div>
<div class="t n" style="top:1628px;right:868.20px;text-align:right;font-size:31px;">30.9</div>
<div class="t s" style="top:1619px;left:1107.3px;font-size:21px;">A</div>
<div class="t n" style="top:1628px;right:748.00px;text-align:right;font-size:31px;">0.9</div>
<div class="t n" style="top:1628px;right:628.20px;text-align:right;font-size:31px;">31.5</div>
<div class="t s" style="top:1619px;left:1347.3px;font-size:21px;">A</div>
<div class="t n" style="top:1628px;right:512.50px;text-align:right;font-size:31px;">1.1</div>
<div class="t n" style="top:1628px;right:401.30px;text-align:right;font-size:31px;">26.8</div>
<div class="t s" style="top:1619px;left:1574.2px;font-size:21px;">B</div>
<div class="t n" style="top:1628px;right:273.50px;text-align:right;font-size:31px;">1.9</div>
<div class="t n" style="top:1628px;right:146.50px;text-align:right;font-size:31px;">26.7</div>
<div class="t s" style="top:1619px;left:1829.0px;font-size:21px;">B</div>
<div class="t n" style="top:1628px;right:33.00px;text-align:right;font-size:31px;">2.1</div>
<div class="t" style="top:1664px;left:14.0px;letter-spacing:-0.232px;">SF-36 v2 physical health component&dagger;</div>
<div class="t n" style="top:1665px;right:1075.50px;text-align:right;font-size:31px;">39.0</div>
<div class="t n" style="top:1665px;right:977.50px;text-align:right;font-size:31px;">0.7</div>
<div class="t n" style="top:1665px;right:868.20px;text-align:right;font-size:31px;">38.8</div>
<div class="t n" style="top:1665px;right:748.00px;text-align:right;font-size:31px;">1.1</div>
<div class="t n" style="top:1665px;right:628.20px;text-align:right;font-size:31px;">40.3</div>
<div class="t n" style="top:1665px;right:512.50px;text-align:right;font-size:31px;">1.2</div>
<div class="t n" style="top:1665px;right:401.30px;text-align:right;font-size:31px;">35.9</div>
<div class="t n" style="top:1665px;right:273.50px;text-align:right;font-size:31px;">2.1</div>
<div class="t n" style="top:1665px;right:146.50px;text-align:right;font-size:31px;">37.1</div>
<div class="t n" style="top:1665px;right:33.00px;text-align:right;font-size:31px;">2.4</div>
<div class="r" style="left:14px;top:1687px;width:1948px;height:2px;background:#1a1a1a"></div>
<div class="t" style="top:1713px;left:14.0px;letter-spacing:-0.046px;">*Different superscripted uppercase letters indicate groups are significantly different (<i>P</i><span class="lt">&lt;</span>.05).</div>
<div class="t" style="top:1750px;left:14.0px;letter-spacing:0.083px;">&dagger;Higher scores indicate better functioning.</div>
<div class="t" style="top:1786px;left:14.0px;letter-spacing:0.016px;">Abbreviations: BZD<span class="da">&ndash;</span><span class="eq">=</span>not prescribed benzodiazepines at intake, BZD+<span class="eq">=</span>prescribed benzodiazepines at intake, PCT<span class="eq">=</span>present-centered</div>
<div class="t" style="top:1821px;left:40.0px;letter-spacing:-0.054px;">psychotherapy, PE<span class="eq">=</span>prolonged exposure, PTSD<span class="eq">=</span>posttraumatic stress disorder, SF-36<span class="eq">=</span>Medical Outcomes Study 36-item Short Form Health</div>
<div class="t" style="top:1856px;left:40.0px;letter-spacing:0.012px;">Survey, SNRI<span class="eq">=</span>serotonin-norepinephrine reuptake inhibitor, SSRI<span class="eq">=</span>selective serotonin reuptake inhibitor.</div>
<div class="r" style="left:14px;top:1882px;width:1947px;height:2px;background:#1a1a1a"></div>
<div class="title" style="top:43px;left:14px;font-size:36.2px;letter-spacing:-0.018px;">Table 1. Characteristics of Participants by Psychotherapy Condition and Benzodiazepine Use Status<span class="ast">*</span></div>
</body></html>
